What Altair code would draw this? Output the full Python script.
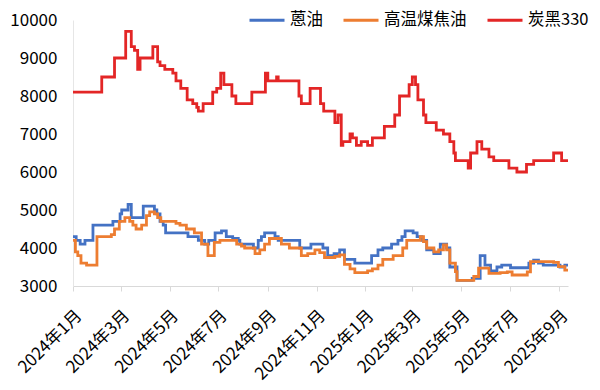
import altair as alt
import pandas as pd

SERIES = ["蒽油", "高温煤焦油", "炭黑330"]
COLORS = ["#4472C4", "#ED7D31", "#E32626"]

anthracene_dates = [
    "2024-01-01", "2024-01-05", "2024-01-10", "2024-01-16", "2024-01-26", "2024-02-20", "2024-02-29",
    "2024-03-02", "2024-03-10", "2024-03-14", "2024-03-29", "2024-04-12", "2024-04-15", "2024-04-19",
    "2024-04-23", "2024-04-26", "2024-05-24", "2024-06-06", "2024-06-14", "2024-06-19", "2024-06-27",
    "2024-07-05", "2024-07-11", "2024-07-19", "2024-07-26", "2024-07-28", "2024-08-14", "2024-08-20",
    "2024-08-24", "2024-08-28", "2024-09-10", "2024-09-14", "2024-10-11", "2024-10-25", "2024-11-09",
    "2024-11-15", "2024-11-23", "2024-11-30", "2024-12-06", "2024-12-19", "2025-01-09", "2025-01-17",
    "2025-01-23", "2025-02-03", "2025-02-11", "2025-02-16", "2025-02-20", "2025-03-02", "2025-03-07",
    "2025-03-13", "2025-03-19", "2025-03-28", "2025-04-05", "2025-04-13", "2025-04-17", "2025-04-26",
    "2025-05-15", "2025-05-25", "2025-05-31", "2025-06-07", "2025-06-15", "2025-06-21", "2025-07-02",
    "2025-07-25", "2025-07-31", "2025-08-06", "2025-08-12", "2025-09-02", "2025-09-08", "2025-09-12",
]
anthracene_values = [
    4300, 4200, 4100, 4200, 4600, 4700, 4900,
    5000, 5150, 4800, 5100, 5000, 4900, 4700,
    4600, 4400, 4300, 4200, 4100, 4200, 4400,
    4450, 4300, 4250, 4200, 4100, 4000, 4200,
    4300, 4400, 4300, 4200, 4000, 4100, 4000,
    3800, 3850, 3950, 3700, 3600, 3800, 3950,
    4000, 4100, 4200, 4300, 4450, 4400, 4300,
    4200, 3950, 3850, 4100, 4000, 3500, 3150,
    3200, 3800, 3550, 3400, 3500, 3550, 3480,
    3600, 3680, 3600, 3550, 3500, 3550, 3550,
]

tar_dates = [
    "2024-01-01", "2024-01-04", "2024-01-07", "2024-01-11", "2024-01-18", "2024-01-31", "2024-02-18",
    "2024-02-22", "2024-02-28", "2024-03-06", "2024-03-12", "2024-03-16", "2024-03-20", "2024-03-27",
    "2024-04-02", "2024-04-06", "2024-04-12", "2024-04-16", "2024-04-20", "2024-05-09", "2024-05-14",
    "2024-05-22", "2024-06-01", "2024-06-10", "2024-06-18", "2024-06-26", "2024-07-03", "2024-07-24",
    "2024-07-30", "2024-08-03", "2024-08-16", "2024-08-22", "2024-08-28", "2024-09-03", "2024-09-18",
    "2024-09-28", "2024-10-13", "2024-10-21", "2024-10-30", "2024-11-05", "2024-11-11", "2024-11-24",
    "2024-11-30", "2024-12-06", "2024-12-13", "2024-12-19", "2025-01-04", "2025-01-10", "2025-01-17",
    "2025-01-23", "2025-02-05", "2025-02-17", "2025-02-22", "2025-03-11", "2025-03-15", "2025-03-19",
    "2025-03-28", "2025-04-03", "2025-04-09", "2025-04-13", "2025-04-17", "2025-04-24", "2025-04-26",
    "2025-05-17", "2025-05-23", "2025-06-05", "2025-06-19", "2025-06-28", "2025-07-04", "2025-07-23",
    "2025-07-27", "2025-08-25", "2025-08-31", "2025-09-08", "2025-09-12",
]
tar_values = [
    4200, 3900, 3800, 3600, 3550, 4300, 4350,
    4500, 4700, 4800, 4700, 4600, 4500, 4600,
    4850, 4950, 4900, 4800, 4700, 4650, 4600,
    4500, 4400, 4100, 3800, 4150, 4200, 4100,
    4050, 4000, 3850, 3950, 4100, 4250, 4100,
    4000, 3800, 3850, 3950, 3880, 3750, 3780,
    3820, 3570, 3450, 3350, 3400, 3450, 3550,
    3700, 3800, 4000, 4200, 4300, 4170, 4000,
    3900, 3950, 4080, 3950, 3600, 3380, 3150,
    3250, 3470, 3330, 3350, 3370, 3290, 3370,
    3640, 3620, 3510, 3420, 3420,
]

black_dates = [
    "2024-01-01", "2024-02-06", "2024-02-22", "2024-03-07", "2024-03-14", "2024-03-18", "2024-03-22",
    "2024-03-25", "2024-04-10", "2024-04-16", "2024-04-19", "2024-04-25", "2024-05-05", "2024-05-09",
    "2024-05-15", "2024-05-23", "2024-05-30", "2024-06-04", "2024-06-06", "2024-06-12", "2024-06-24",
    "2024-06-29", "2024-07-04", "2024-07-08", "2024-07-18", "2024-07-23", "2024-08-12", "2024-08-29",
    "2024-09-01", "2024-09-12", "2024-09-14", "2024-10-10", "2024-10-13", "2024-10-24", "2024-11-06",
    "2024-11-10", "2024-11-24", "2024-11-28", "2024-12-02", "2024-12-04", "2024-12-13", "2024-12-16",
    "2024-12-21", "2024-12-27", "2025-01-04", "2025-01-10", "2025-01-25", "2025-02-07", "2025-02-13",
    "2025-02-25", "2025-03-01", "2025-03-05", "2025-03-08", "2025-03-15", "2025-03-18", "2025-03-31",
    "2025-04-09", "2025-04-17", "2025-04-22", "2025-04-24", "2025-05-10", "2025-05-13", "2025-05-21",
    "2025-05-27", "2025-06-05", "2025-06-11", "2025-06-30", "2025-07-10", "2025-07-22", "2025-07-31",
    "2025-08-25", "2025-09-04", "2025-09-12",
]
black_values = [
    8100, 8500, 9000, 9700, 9300, 9200, 8700,
    9000, 9300, 8900, 8800, 8700, 8600, 8400,
    8200, 7900, 7800, 7700, 7600, 7800, 8100,
    8200, 8600, 8300, 8000, 7800, 8100, 8600,
    8400, 8500, 8400, 8000, 7800, 8200, 7800,
    7600, 7300, 7500, 6700, 6800, 7000, 6900,
    6700, 6800, 6700, 6900, 7200, 7500, 8000,
    8300, 8500, 8300, 7900, 7500, 7300, 7100,
    7000, 6800, 6500, 6300, 6100, 6500, 6800,
    6600, 6400, 6300, 6100, 6000, 6200, 6300,
    6500, 6300, 6300,
]

tick_dates = [
    "2024-01-01", "2024-03-01", "2024-05-01", "2024-07-01", "2024-09-01", "2024-11-01",
    "2025-01-01", "2025-03-01", "2025-05-01", "2025-07-01", "2025-09-01",
]
y_ticks = [3000, 4000, 5000, 6000, 7000, 8000, 9000, 10000]

frames = []
for name, d, v in [
    (SERIES[0], anthracene_dates, anthracene_values),
    (SERIES[1], tar_dates, tar_values),
    (SERIES[2], black_dates, black_values),
]:
    frames.append(pd.DataFrame({"date": pd.to_datetime(d), "value": v, "series": name}))
df = pd.concat(frames, ignore_index=True)


def dt(s):
    y, m, d = (int(p) for p in s.split("-"))
    return alt.DateTime(year=y, month=m, date=d)


FONT = "Noto Sans CJK SC"

chart = (
    alt.Chart(df)
    .mark_line(interpolate="step-after", strokeWidth=2.8)
    .encode(
        x=alt.X(
            "date:T",
            title=None,
            scale=alt.Scale(domain=[dt(anthracene_dates[0]), dt(anthracene_dates[-1])], nice=False),
            axis=alt.Axis(
                values=[dt(s) for s in tick_dates],
                format="%Y年%-m月",
                labelAngle=-45,
                labelAlign="right",
                labelBaseline="top",
                labelFontSize=17,
                labelFont=FONT,
                labelColor="#000000",
                labelPadding=16,
                domainColor="#d9d9d9",
                tickColor="#d9d9d9",
                tickSize=5,
                grid=False,
                labelOverlap=False,
            ),
        ),
        y=alt.Y(
            "value:Q",
            title=None,
            scale=alt.Scale(domain=[3000, 10000], nice=False, zero=False),
            axis=alt.Axis(
                values=y_ticks,
                format="d",
                labelFontSize=17,
                labelFont=FONT,
                labelColor="#000000",
                labelPadding=16,
                domainColor="#e6e6e6",
                ticks=False,
                grid=False,
            ),
        ),
        color=alt.Color(
            "series:N",
            scale=alt.Scale(domain=SERIES, range=COLORS),
            legend=alt.Legend(
                title=None,
                orient="none",
                legendX=175,
                legendY=-19,
                direction="horizontal",
                symbolType="stroke",
                symbolSize=1225,
                symbolStrokeWidth=2.8,
                labelFontSize=16.5,
                labelFont=FONT,
                labelColor="#000000",
                labelOffset=4,
                columnPadding=14,
            ),
        ),
    )
    .properties(
        width=495,
        height=266,
        autosize=alt.AutoSizeParams(type="none"),
        padding={"left": 65, "top": 12, "right": 24, "bottom": 96},
    )
    .configure_view(stroke=None)
)

chart.save("out.html", embed_options={"renderer": "svg", "actions": False})
